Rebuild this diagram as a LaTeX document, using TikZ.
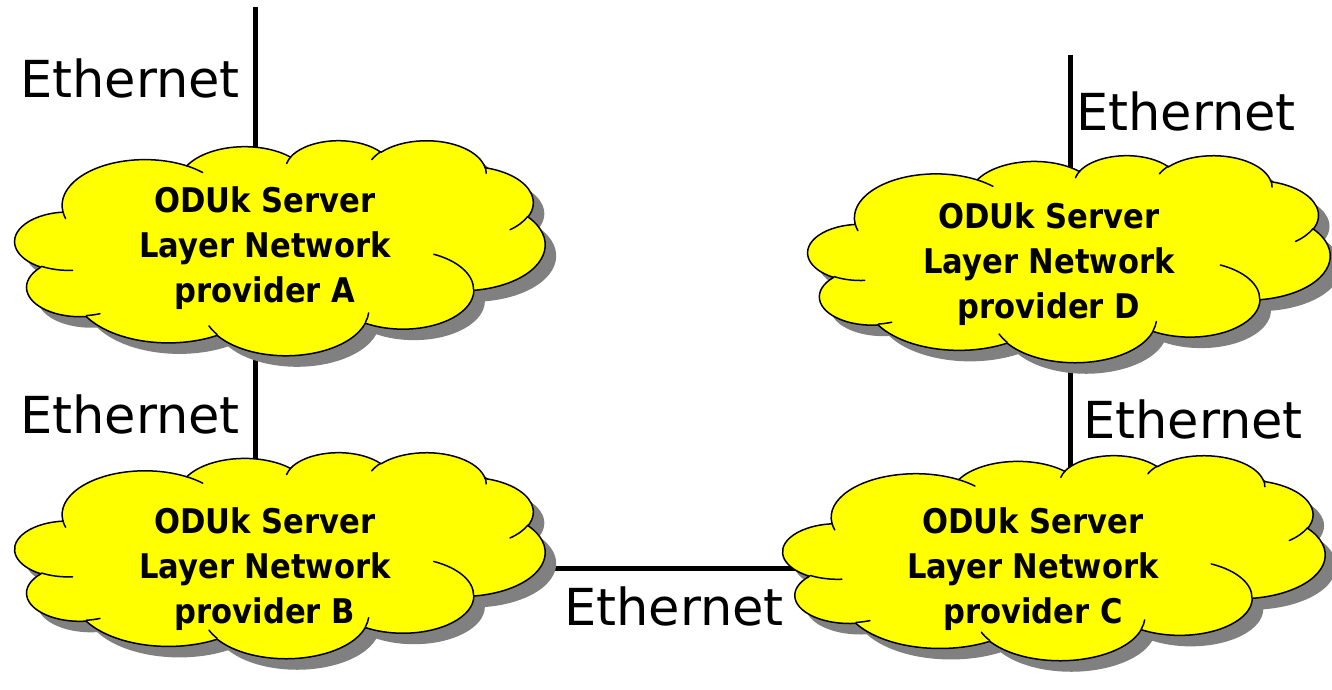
\documentclass[tikz,border=0pt]{standalone}
\usepackage{fontspec}
\setmainfont{DejaVu Sans}
\newfontfamily\cloudfont{DejaVu Sans Condensed}
\usetikzlibrary{calc}

% one arc of the office-style cloud: x radius, y radius, start angle, sweep
% (angles are visual angles, turned into parametric ones by vp)
\newcommand\oarc[4]{arc[x radius=#1, y radius=#2, start angle={vp(#3,#1,#2)}, end angle={vp(#3+#4,#1,#2)}]}

% cloud outline in a 432 x 432 box, y pointing down
\newcommand\cloudoutline{%
 (39,143.7)
 \oarc{67.53}{91.90}{-190.4875}{123.7805}
 \oarc{53.33}{72.67}{-144.1024}{89.9452}
 \oarc{43.65}{59.45}{-145.8079}{99.7230}
 \oarc{48.57}{65.95}{-130.9861}{117.2417}
 \oarc{53.33}{72.73}{-78.7089}{109.0269}
 \oarc{67.75}{92.20}{-46.2673}{130.2690}
 \oarc{57.85}{78.67}{0.6250}{114.0333}
 \oarc{67.52}{92.15}{22.4516}{115.1726}
 \oarc{77.20}{105.43}{66.2426}{75.7110}
 \oarc{43.60}{59.18}{-274.9421}{146.7356}
 \oarc{43.45}{59.45}{-246.8285}{152.5189}
 -- cycle}

% the short inner strokes of the cloud
\newcommand\cloudinner{%
 (46.93,261.77) \oarc{43.45}{59.45}{86.7420}{26.4295}
 (69.28,348.99) \oarc{43.60}{59.18}{73.6105}{11.4475}
 (164.78,390.90) \oarc{67.52}{92.15}{137.6242}{14.0811}
 (288.27,347.51) \oarc{67.52}{92.15}{6.4533}{15.9984}
 (341.29,229.54) \oarc{57.85}{78.67}{-70.2924}{70.9174}
 (417.98,153.54) \oarc{53.33}{72.73}{30.3180}{27.7515}
 (383.24,54.26) \oarc{48.57}{65.95}{-13.7443}{14.8589}
 (290.78,39.52) \oarc{48.57}{65.95}{-149.1815}{18.1954}
 (221.41,47.20) \oarc{43.65}{59.45}{-163.4943}{17.6864}
 (140.00,51.92) \oarc{67.53}{91.90}{-66.7070}{12.3194}
 (41.27,157.89) \oarc{67.53}{91.90}{157.6544}{11.8582}
}

% cloud with drop shadow: top-left corner x, y, width, height
\newcommand\oocloud[4]{%
 \begin{scope}[shift={(#1,#2)}, x={(#3/432*1pt,0pt)}, y={(0pt,-#4/432*1pt)}]
  \fill[cloudshadow, shift={(11pt,-11pt)}] \cloudoutline;
  \filldraw[cloudbody] \cloudoutline;
  \draw[cloudedge] \cloudinner;
 \end{scope}}

\definecolor{cloudyellow}{HTML}{FFFF00}
\definecolor{shadowgray}{HTML}{808080}

\tikzset{
  cloudshadow/.style={fill=shadowgray},
  cloudbody/.style={fill=cloudyellow, draw=black, line width=1.5pt, line join=round},
  cloudedge/.style={draw=black, line width=1.5pt, line cap=round},
  cloudbox/.style={inner sep=0pt, outer sep=0pt},
  link/.style={draw=black, line width=5pt},
  ethlabel/.style={inner sep=0pt, anchor=base west, font=\fontsize{51}{51}\selectfont},
  cloudtext/.style={inner sep=0pt, align=center, font=\cloudfont\bfseries\fontsize{34}{45}\selectfont},
}

\begin{document}
\begin{tikzpicture}[x=1pt, y=-1pt,
  declare function={vp(\angA,\radW,\radH)=round(\angA/180)*180+atan2(\radW*sin(\angA-round(\angA/180)*180),\radH*cos(\angA-round(\angA/180)*180));}]
\useasboundingbox (0,0) rectangle (1332,690);

% cloud areas
\node[cloudbox, minimum width=530pt, minimum height=215pt] (A) at (280,247.5) {};
\node[cloudbox, minimum width=530pt, minimum height=206pt] (B) at (280,555) {};
\node[cloudbox, minimum width=542pt, minimum height=205pt] (C) at (1054,557.5) {};
\node[cloudbox, minimum width=522pt, minimum height=207pt] (D) at (1069,258.5) {};

% Ethernet links (drawn first, the clouds cover their ends)
\coordinate (topA) at (255,7);
\coordinate (topD) at (1070,55);
\coordinate (midy) at (0,568);
\draw[link] (topA) -- (topA |- A.center);
\draw[link] (topA |- A.center) -- (topA |- B.center);
\draw[link] (B.center |- midy) -- (C.center |- midy);
\draw[link] (topD) -- (topD |- D.center);
\draw[link] (topD |- D.center) -- (topD |- C.center);

% clouds
\oocloud{15}{140}{530}{215}
\oocloud{15}{452}{530}{206}
\oocloud{783}{455}{542}{205}
\oocloud{808}{155}{522}{207}

% cloud texts
\node[cloudtext] (Atext) at (265,248) {ODUk Server\\Layer Network\\provider A};
\node[cloudtext] (Btext) at (265,569) {ODUk Server\\Layer Network\\provider B};
\node[cloudtext] (Ctext) at (1033,569) {ODUk Server\\Layer Network\\provider C};
\node[cloudtext] (Dtext) at (1049,264) {ODUk Server\\Layer Network\\provider D};

% link labels
\node[ethlabel] (e1) at (20,98) {Ethernet};
\node[ethlabel] (e2) at (20,433) {Ethernet};
\node[ethlabel] (e3) at (564,625) {Ethernet};
\node[ethlabel] (e4) at (1076,131) {Ethernet};
\node[ethlabel] (e5) at (1083,438) {Ethernet};
\end{tikzpicture}
\end{document}
